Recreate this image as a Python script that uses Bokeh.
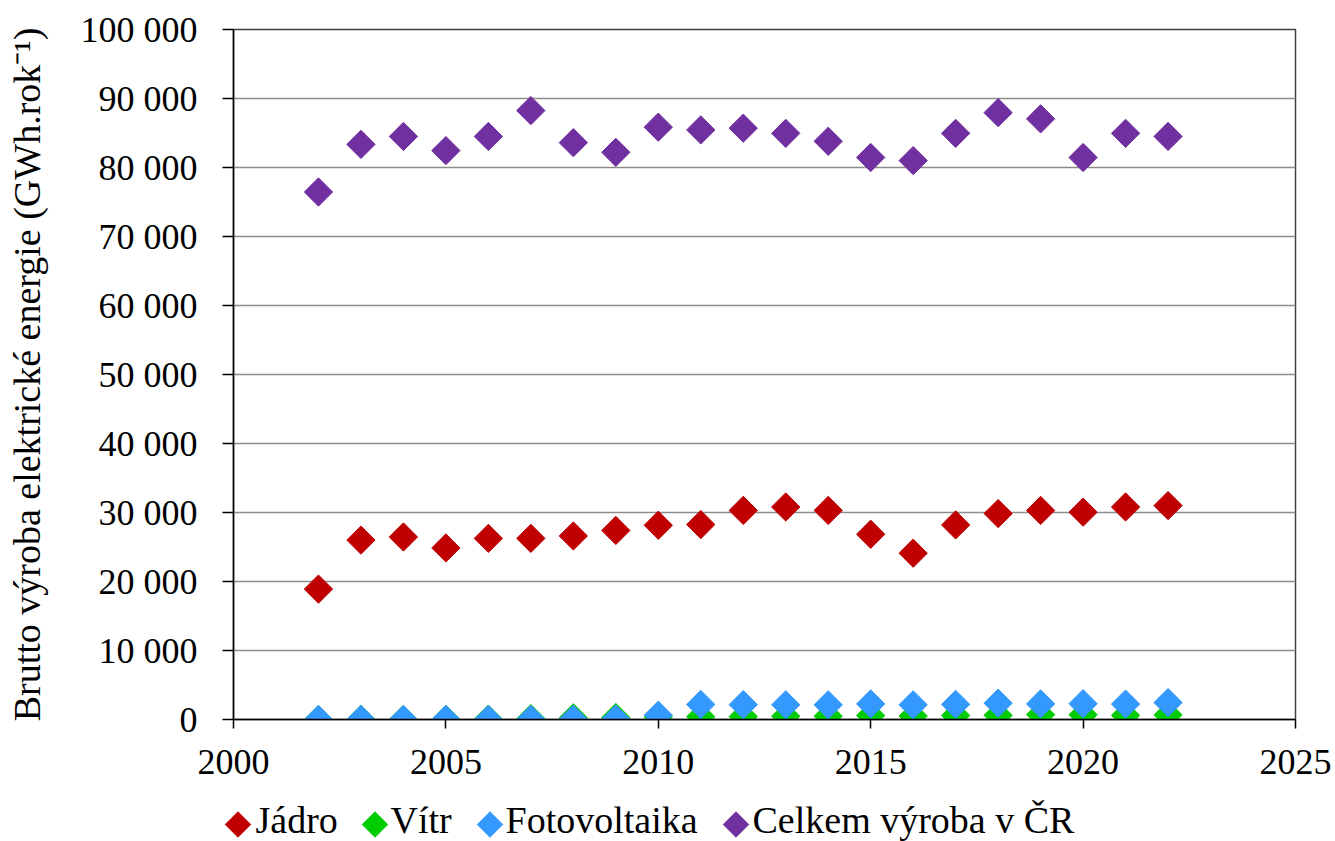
from bokeh.plotting import figure
from bokeh.models import FixedTicker, ColumnDataSource, Range1d
from bokeh.layouts import column
from bokeh.core.properties import value
from bokeh.embed import file_html
from bokeh.resources import INLINE

years = list(range(2002, 2023))
jadro = [18900, 26000, 26450, 24870, 26250, 26250, 26600, 27400, 28150, 28250,
         30300, 30800, 30300, 26850, 24100, 28200, 29850, 30300, 30050, 30800, 31000]
vitr = [0, 0, 10, 20, 50, 125, 245, 290, 335, 400,
        420, 480, 480, 570, 500, 590, 610, 700, 700, 600, 650]
fotovoltaika = [0, 0, 0, 0, 0, 20, 40, 90, 620, 2180,
                2150, 2130, 2120, 2260, 2130, 2190, 2360, 2260, 2290, 2230, 2450]
celkem = [76450, 83350, 84500, 82450, 84500, 88250, 83600, 82200, 85850, 85450,
          85700, 84950, 83800, 81450, 81000, 84950, 87950, 87050, 81450, 84950, 84500]

series_names = ["Jádro", "Vítr", "Fotovoltaika", "Celkem výroba v ČR"]
series_colors = ["#C00000", "#00CC00", "#3399FF", "#7030A0"]

y_ticks = [0, 10000, 20000, 30000, 40000, 50000, 60000, 70000, 80000, 90000, 100000]
y_tick_labels = ["0", "10 000", "20 000", "30 000", "40 000", "50 000", "60 000",
                 "70 000", "80 000", "90 000", "100 000"]
x_ticks = [2000, 2005, 2010, 2015, 2020, 2025]
y_title = "Brutto výroba elektrické energie (GWh.rok⁻¹)"

FONT = "Liberation Serif"
TOTAL_W = 1335
MAIN_H = 795
LEG_H = 46

p = figure(frame_width=1062, frame_height=690, output_backend="svg",
           toolbar_location=None,
           x_range=Range1d(2000, 2025), y_range=Range1d(0, 100000),
           min_border_left=233, min_border_right=40, min_border_top=29,
           min_border_bottom=MAIN_H - 719)

p.background_fill_color = "white"
p.border_fill_color = "white"
p.outline_line_color = "#404040"
p.outline_line_width = 1.5

p.xgrid.grid_line_color = None
p.ygrid.grid_line_color = "#8c8c8c"
p.ygrid.grid_line_width = 1.5

p.xaxis.ticker = FixedTicker(ticks=x_ticks)
p.yaxis.ticker = FixedTicker(ticks=y_ticks)
p.yaxis.major_label_overrides = {v: s for v, s in zip(y_ticks, y_tick_labels)}
p.xaxis.major_label_overrides = {v: str(v) for v in x_ticks}

for ax in (p.xaxis[0], p.yaxis[0]):
    ax.axis_line_color = "black"
    ax.axis_line_width = 1.5
    ax.major_tick_line_color = "black"
    ax.major_tick_line_width = 1.5
    ax.minor_tick_line_color = None
    ax.major_tick_in = 0
    ax.major_label_text_font = FONT
    ax.major_label_text_font_size = "36px"
    ax.major_label_text_color = "black"
    ax.axis_label_text_font = FONT
    ax.axis_label_text_font_style = "normal"
    ax.axis_label_text_color = "black"

p.xaxis.major_tick_out = 9
p.xaxis.major_label_standoff = 21
p.yaxis.major_tick_out = 11
p.yaxis.major_label_standoff = 25
p.yaxis.axis_label = y_title
p.yaxis.axis_label_text_font_size = "38px"
p.yaxis.axis_label_standoff = 30

for name, color, vals in zip(series_names, series_colors,
                             [jadro, vitr, fotovoltaika, celkem]):
    src = ColumnDataSource(dict(x=years, y=vals))
    p.scatter("x", "y", source=src, marker="square", size=20, angle=45,
              angle_units="deg", fill_color=color, line_color=color)

# legend strip (drawn in a pixel-unit figure below the chart)
legend_marker_x = [237.5, 374.5, 489.5, 735.5]
legend_text_x = [255, 390, 505, 752]

leg = figure(frame_width=TOTAL_W, frame_height=LEG_H, output_backend="svg",
             toolbar_location=None, x_range=Range1d(0, TOTAL_W),
             y_range=Range1d(LEG_H, 0), min_border=0,
             min_border_left=0, min_border_right=0,
             min_border_top=0, min_border_bottom=0)
leg.axis.visible = False
leg.grid.grid_line_color = None
leg.outline_line_color = None
leg.background_fill_color = "white"
leg.border_fill_color = "white"

for fig in (p, leg):
    try:
        fig.frame_align = False
    except Exception:
        pass

leg_src = ColumnDataSource(dict(mx=legend_marker_x, tx=legend_text_x,
                                my=[29] * 4, ty=[24] * 4,
                                name=series_names, color=series_colors))
leg.scatter("mx", "my", source=leg_src, marker="square", size=18, angle=45,
            angle_units="deg", fill_color="color", line_color="color")
leg.text("tx", "ty", text="name", source=leg_src, text_font=value(FONT),
         text_font_size="38px", text_color="black", text_align="left",
         text_baseline="middle")

layout = column(p, leg, spacing=0)
open("out.html", "w").write(file_html(layout, INLINE))
